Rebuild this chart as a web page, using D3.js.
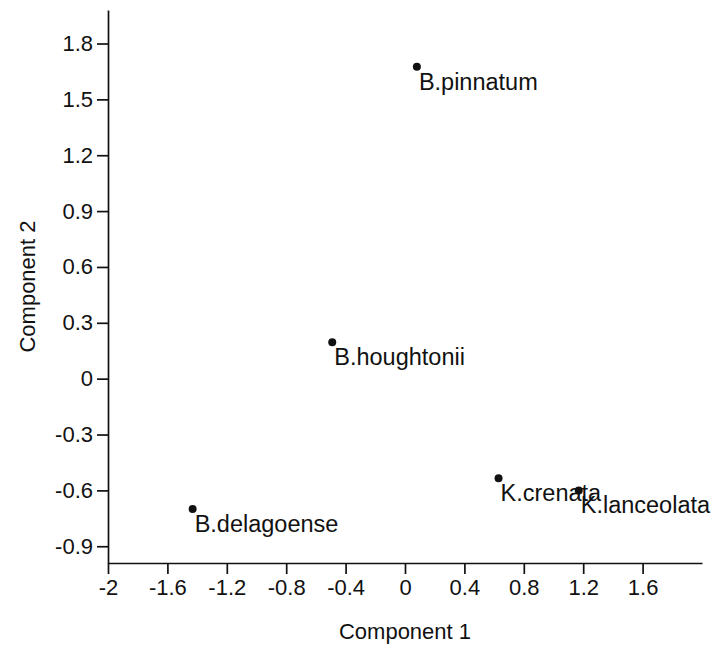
<!DOCTYPE html>
<html>
<head>
<meta charset="utf-8">
<style>
  body { margin: 0; background: #fff; }
  svg text { font-family: Arial, "Liberation Sans", sans-serif; fill: #111; }
</style>
</head>
<body>
<div id="chart"></div>
<script src="https://d3js.org/d3.v7.min.js"></script>
<script>
  // species scores on the first two components
  var species = ["B.pinnatum", "B.houghtonii", "K.crenata", "K.lanceolata", "B.delagoense"];
  var comp1 = [0.08, -0.49, 0.63, 1.17, -1.43];
  var comp2 = [1.675, 0.195, -0.535, -0.60, -0.70];

  var xTicks = [-2, -1.6, -1.2, -0.8, -0.4, 0, 0.4, 0.8, 1.2, 1.6];
  var yTicks = [-0.9, -0.6, -0.3, 0, 0.3, 0.6, 0.9, 1.2, 1.5, 1.8];

  var w = 711, h = 645;
  var mLeft = 108, mRight = 702, mTop = 10, mBottom = 563;

  var svg = d3.select("#chart").append("svg")
    .attr("width", w)
    .attr("height", h);

  var x = d3.scaleLinear().domain([-2, 2]).range([mLeft, mRight]);
  var y = d3.scaleLinear().domain([-0.99, 1.98]).range([mBottom, mTop]);

  var fmt = function (d) { return String(+d.toFixed(1)); };

  var xAxis = svg.append("g")
    .attr("transform", "translate(0," + mBottom + ")")
    .call(d3.axisBottom(x).tickValues(xTicks).tickFormat(fmt)
      .tickSize(11).tickSizeOuter(0).tickPadding(5));

  var yAxis = svg.append("g")
    .attr("transform", "translate(" + mLeft + ",0)")
    .call(d3.axisLeft(y).tickValues(yTicks).tickFormat(fmt)
      .tickSize(11).tickSizeOuter(0).tickPadding(4));

  [xAxis, yAxis].forEach(function (g) {
    g.attr("font-size", 22).attr("font-family", null);
    g.selectAll("path, line").attr("stroke", "#111").attr("stroke-width", 1.7);
    g.selectAll("text").attr("fill", "#111");
  });

  svg.append("text")
    .attr("x", (mLeft + mRight) / 2)
    .attr("y", 639)
    .attr("text-anchor", "middle")
    .attr("font-size", 22)
    .text("Component 1");

  svg.append("text")
    .attr("transform", "translate(35," + (mTop + mBottom) / 2 + ") rotate(-90)")
    .attr("text-anchor", "middle")
    .attr("font-size", 22)
    .text("Component 2");

  var pts = species.map(function (s, i) {
    return { name: s, c1: comp1[i], c2: comp2[i] };
  });

  svg.selectAll("circle")
    .data(pts)
    .enter()
    .append("circle")
    .attr("cx", function (d) { return x(d.c1); })
    .attr("cy", function (d) { return y(d.c2); })
    .attr("r", 4)
    .attr("fill", "#111");

  svg.selectAll("text.lbl")
    .data(pts)
    .enter()
    .append("text")
    .attr("class", "lbl")
    .attr("x", function (d) { return x(d.c1) + 2; })
    .attr("y", function (d) { return y(d.c2) + 23; })
    .attr("font-size", 23.5)
    .text(function (d) { return d.name; });
</script>
</body>
</html>
